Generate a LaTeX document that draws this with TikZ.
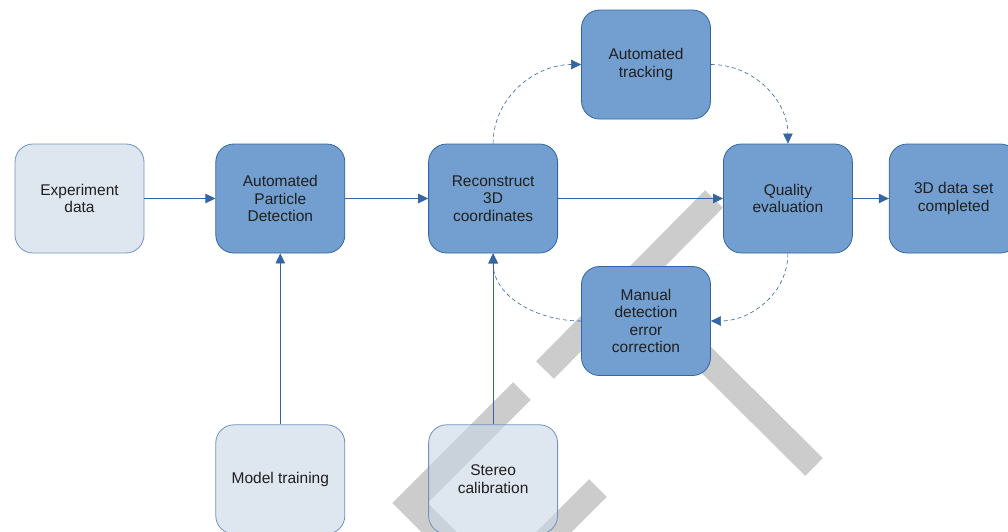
\documentclass[tikz,border=0pt]{standalone}
\usepackage{fontspec}
\setmainfont{Liberation Sans}
\usetikzlibrary{arrows.meta, positioning}
\definecolor{boxblue}{HTML}{729FCF}
\definecolor{lineblue}{HTML}{3465A4}
\definecolor{paleblue}{HTML}{C8D5E4}
\definecolor{stampgray}{HTML}{CCCCCC}

\begin{document}
\begin{tikzpicture}[x=1pt, y=-1pt,
  every node/.style={rounded corners=18pt, minimum width=129pt, minimum height=109pt, align=center, inner sep=2pt, text=black!88, font=\fontsize{15.5}{17.5}\selectfont},
  task/.style={fill=boxblue, draw=lineblue, line width=0.8pt},
  input/.style={fill=paleblue, fill opacity=0.6, text opacity=1, draw=lineblue!70, line width=0.8pt},
  flow/.style={-{Triangle[length=10pt, width=9.5pt]}, draw=lineblue, line width=0.8pt},
  loop/.style={flow, dash pattern=on 4pt off 3pt, line width=0.6pt},
  stamp/.style={draw=stampgray, line width=25pt}]
\useasboundingbox (0,0) rectangle (1008,531);

% Watermark
\draw[stamp] (545,370) -- (714,199);
\draw[stamp] (650,304) -- (814,467);
\draw[stamp, line join=miter] (522,391) -- (410,503) -- (460,553);
\draw[stamp] (598,488) -- (540,546);

% Nodes
\node[input] (exp) at (79.5,198.5) {Experiment\\data};
\node[task, right=71pt of exp] (detect) {Automated\\Particle\\Detection};
\node[task, right=83pt of detect] (recon) {Reconstruct\\3D\\coordinates};
\node[task, right=165pt of recon] (quality) {Quality\\evaluation};
\node[task, right=36pt of quality] (done) {3D data set\\completed};

\node[task] (track) at (646,64.5) {Automated\\tracking};
\node[task] (manual) at (646,321) {Manual\\detection\\error\\correction};

\node[input, below=171pt of detect] (train) {Model training};
\node[input, below=171pt of recon] (stereo) {Stereo\\calibration};

% Arrows
\draw[flow] (exp) -- (detect);
\draw[flow] (detect) -- (recon);
\draw[flow] (recon) -- (quality);
\draw[flow] (quality) -- (done);
\draw[flow] (train) -- (detect);
\draw[flow] (stereo) -- (recon);

\draw[loop] (recon.north) to[out=90, in=180] (track.west);
\draw[loop] (track.east) to[out=0, in=90] (quality.north);
\draw[loop] (quality.south) to[out=-90, in=0] (manual.east);
\draw[loop] (manual.west) to[out=180, in=-90] (recon.south);

\end{tikzpicture}
\end{document}
